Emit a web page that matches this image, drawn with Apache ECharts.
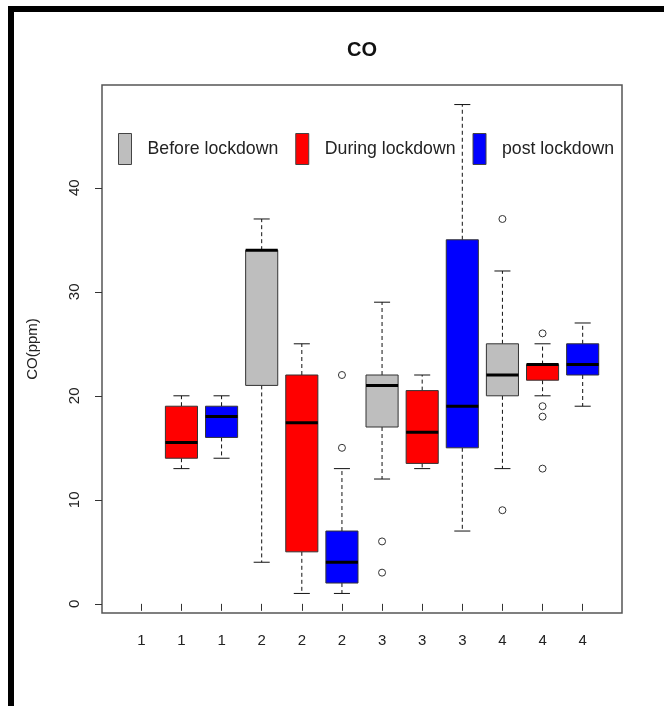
<!DOCTYPE html>
<html>
<head>
<meta charset="utf-8">
<script src="https://cdn.jsdelivr.net/npm/echarts@6/dist/echarts.min.js"></script>
<style>
  html, body { margin: 0; padding: 0; background: #fff; }
  #chart { width: 664px; height: 706px; }
</style>
</head>
<body>
<div id="chart"></div>
<script>
// Phases and the period label shown under each box
const phaseNames = ['Before lockdown', 'During lockdown', 'post lockdown'];
const phaseColors = ['#BEBEBE', '#FF0000', '#0000FF'];
const periodLabels = ['1', '1', '1', '2', '2', '2', '3', '3', '3', '4', '4', '4'];
const yTicks = [0, 10, 20, 30, 40];

// Five-number summaries per period: [lower whisker, Q1, median, Q3, upper whisker]
const beforeStats = [null, [4, 21, 34, 34, 37], [12, 17, 21, 22, 29], [13, 20, 22, 25, 32]];
const duringStats = [[13, 14, 15.5, 19, 20], [1, 5, 17.4, 22, 25], [13, 13.5, 16.5, 20.5, 22], [20, 21.5, 23, 23, 25]];
const postStats = [[14, 16, 18, 19, 20], [1, 2, 4, 7, 13], [7, 15, 19, 35, 48], [19, 22, 23, 25, 27]];

// Outlying observations per period
const beforeOutliers = [[], [], [6, 3], [37, 9]];
const duringOutliers = [[], [], [], [26, 19, 18, 13]];
const postOutliers = [[], [22, 15], [], []];

const allStats = [beforeStats, duringStats, postStats];
const allOutliers = [beforeOutliers, duringOutliers, postOutliers];

const BOX_WIDTH = 0.8;
const CAP_WIDTH = 0.4;

function boxPosition(period, phase) {
  return period * 3 + phase + 1;
}

function renderBox(params, api) {
  const x = api.value(0);
  const lo = api.coord([x, api.value(1)]);
  const q1 = api.coord([x, api.value(2)]);
  const med = api.coord([x, api.value(3)]);
  const q3 = api.coord([x, api.value(4)]);
  const hi = api.coord([x, api.value(5)]);
  const half = api.size([BOX_WIDTH, 0])[0] / 2;
  const capHalf = api.size([CAP_WIDTH, 0])[0] / 2;
  const cx = q1[0];
  const fill = api.visual('color');
  const dashed = { stroke: '#111', lineWidth: 1, lineDash: [4, 3] };
  const solid = { stroke: '#111', lineWidth: 1 };
  return {
    type: 'group',
    children: [
      { type: 'line', shape: { x1: cx, y1: q3[1], x2: cx, y2: hi[1] }, style: dashed },
      { type: 'line', shape: { x1: cx, y1: q1[1], x2: cx, y2: lo[1] }, style: dashed },
      { type: 'line', shape: { x1: cx - capHalf, y1: hi[1], x2: cx + capHalf, y2: hi[1] }, style: solid },
      { type: 'line', shape: { x1: cx - capHalf, y1: lo[1], x2: cx + capHalf, y2: lo[1] }, style: solid },
      {
        type: 'rect',
        shape: { x: cx - half, y: q3[1], width: half * 2, height: q1[1] - q3[1] },
        style: { fill: fill, stroke: '#333', lineWidth: 1 }
      },
      { type: 'line', shape: { x1: cx - half, y1: med[1], x2: cx + half, y2: med[1] }, style: { stroke: '#000', lineWidth: 3 } }
    ]
  };
}

const series = [];
phaseNames.forEach(function (name, k) {
  const data = [];
  allStats[k].forEach(function (s, p) {
    if (s) data.push([boxPosition(p, k)].concat(s));
  });
  series.push({
    type: 'custom',
    name: name,
    renderItem: renderBox,
    itemStyle: { color: phaseColors[k], borderColor: '#333', borderWidth: 1 },
    encode: { x: 0, y: [1, 2, 3, 4, 5] },
    data: data,
    z: 2
  });
});

const outlierData = [];
allOutliers.forEach(function (periods, k) {
  periods.forEach(function (vals, p) {
    vals.forEach(function (v) { outlierData.push([boxPosition(p, k), v]); });
  });
});
series.push({
  type: 'scatter',
  name: 'Outliers',
  symbol: 'circle',
  symbolSize: 7,
  itemStyle: { color: '#ffffff', borderColor: '#333333', borderWidth: 1, opacity: 1 },
  data: outlierData,
  z: 3
});

const FONT = '"Liberation Sans", Arial, sans-serif';
const positions = periodLabels.map(function (_, i) { return i + 1; });

const option = {
  animation: false,
  backgroundColor: '#fff',
  textStyle: { fontFamily: FONT },
  title: {
    text: 'CO',
    left: 362,
    top: 40,
    padding: 0,
    textAlign: 'center',
    textStyle: { fontFamily: FONT, fontSize: 20, fontWeight: 'bold', color: '#111' }
  },
  legend: {
    data: phaseNames,
    left: 118,
    top: 133,
    padding: 0,
    icon: 'rect',
    itemWidth: 13,
    itemHeight: 31,
    itemGap: 17,
    itemStyle: { borderColor: '#444', borderWidth: 1 },
    textStyle: { fontFamily: FONT, fontSize: 17.7, color: '#222', padding: [0, 0, 0, 11] },
    selectedMode: false
  },
  grid: {
    left: 102,
    top: 85,
    width: 520,
    height: 528,
    show: true,
    borderColor: '#555',
    borderWidth: 1.5,
    backgroundColor: 'transparent'
  },
  xAxis: {
    type: 'value',
    min: 0.02,
    max: 12.98,
    axisLine: { show: false },
    splitLine: { show: false },
    axisTick: { show: true, inside: false, length: 7, customValues: positions, lineStyle: { color: '#333' } },
    axisLabel: {
      customValues: positions,
      margin: 20,
      fontSize: 15,
      color: '#222',
      fontFamily: FONT,
      formatter: function (v) { return periodLabels[Math.round(v) - 1]; }
    }
  },
  yAxis: {
    type: 'value',
    min: -0.88,
    max: 49.88,
    name: 'CO(ppm)',
    nameLocation: 'middle',
    nameRotate: 90,
    nameGap: 62,
    nameTextStyle: { fontFamily: FONT, fontSize: 15, color: '#222' },
    axisLine: { show: false },
    splitLine: { show: false },
    axisTick: { show: true, inside: false, length: 7, customValues: yTicks, lineStyle: { color: '#333' } },
    axisLabel: {
      customValues: yTicks,
      rotate: 90,
      margin: 20,
      fontSize: 15,
      color: '#222',
      fontFamily: FONT
    }
  },
  graphic: [
    { type: 'rect', shape: { x: 8, y: 6, width: 656, height: 6 }, style: { fill: '#000' }, z: 100 },
    { type: 'rect', shape: { x: 8, y: 6, width: 6, height: 700 }, style: { fill: '#000' }, z: 100 }
  ],
  series: series
};

const chart = echarts.init(document.getElementById('chart'), null, { renderer: 'canvas' });
chart.setOption(option);
</script>
</body>
</html>
